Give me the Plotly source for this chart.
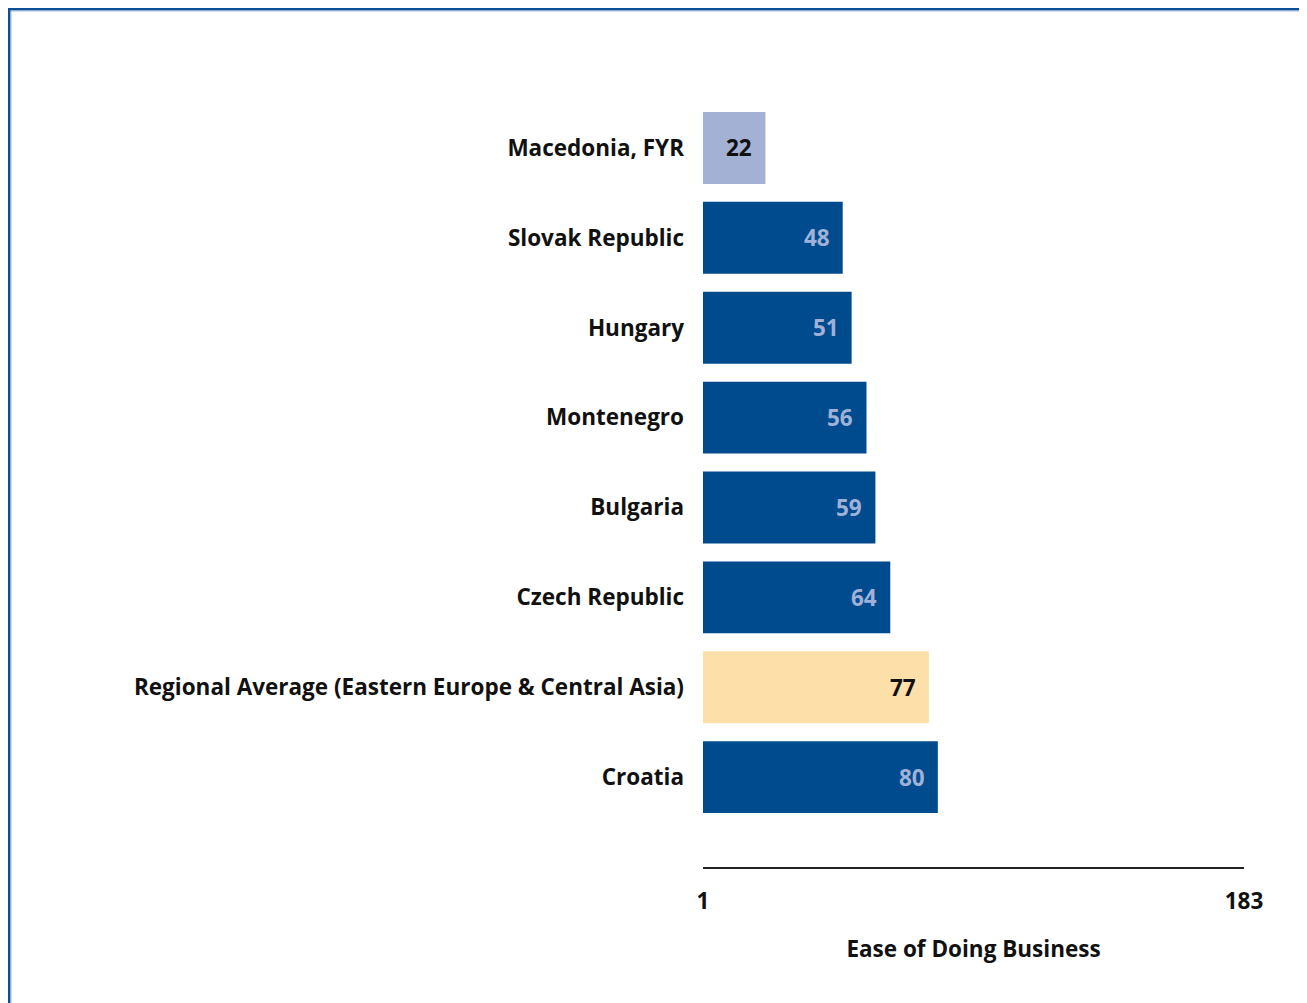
import plotly.graph_objects as go

categories = ["Croatia", "Regional Average (Eastern Europe & Central Asia)", "Czech Republic",
              "Bulgaria", "Montenegro", "Hungary", "Slovak Republic", "Macedonia, FYR"]
values = [80, 77, 64, 59, 56, 51, 48, 22]
bar_colors = ["#004b8d", "#fddfa9", "#004b8d", "#004b8d", "#004b8d", "#004b8d", "#004b8d", "#a3b1d4"]
text_colors = ["#9fb1d8", "#111111", "#9fb1d8", "#9fb1d8", "#9fb1d8", "#9fb1d8", "#9fb1d8", "#111111"]
x_ticks = [1, 183]
x_title = "Ease of Doing Business"

OFF = 8  # page body margin
W, H = 1307, 1003
L, R, T, B = 703 - OFF, 1307 - (1244 - OFF), 103 - OFF, 1003 - (867 - OFF)
pw, ph = W - L - R, H - T - B

def px2x(p):
    return (p - OFF - L) / pw

def px2y(p):
    return (H - B - (p - OFF)) / ph

FONT = "Open Sans"
FS = 22.5

fig = go.Figure()
fig.add_trace(go.Bar(
    x=values, y=categories, orientation="h",
    marker=dict(color=bar_colors, line=dict(width=0)),
    width=0.8, hoverinfo="skip", showlegend=False,
))

for v, c, tc in zip(values, categories, text_colors):
    fig.add_annotation(x=v, y=c, text="<b>%d</b>" % v, showarrow=False,
                       xanchor="right", xshift=-11,
                       font=dict(family=FONT, size=FS, color=tc))

# frame
blue = "#0d4f96"
light = "#9ab8dc"
fig.add_shape(type="line", xref="paper", yref="paper", x0=px2x(8), x1=px2x(1320),
              y0=px2y(9), y1=px2y(9), line=dict(color=blue, width=3))
fig.add_shape(type="line", xref="paper", yref="paper", x0=px2x(8), x1=px2x(1320),
              y0=px2y(11), y1=px2y(11), line=dict(color=light, width=1))
fig.add_shape(type="line", xref="paper", yref="paper", x0=px2x(9), x1=px2x(9),
              y0=px2y(8), y1=px2y(1020), line=dict(color=blue, width=3))
fig.add_shape(type="line", xref="paper", yref="paper", x0=px2x(11), x1=px2x(11),
              y0=px2y(11), y1=px2y(1020), line=dict(color=light, width=1))

fig.update_layout(
    width=W, height=H,
    margin=dict(l=L, r=R, t=T, b=B, pad=0),
    paper_bgcolor="white", plot_bgcolor="white",
    font=dict(family=FONT, size=FS, color="#111111"),
    xaxis=dict(range=[1, 183], tickvals=x_ticks, ticktext=["<b>%d</b>" % t for t in x_ticks],
               showgrid=False, zeroline=False, showline=True, linecolor="#222222", linewidth=2,
               ticks="", ticklabelstandoff=13, tickfont=dict(family=FONT, size=FS),
               title=dict(text="<b>" + x_title + "</b>", standoff=26,
                          font=dict(family=FONT, size=FS))),
    yaxis=dict(range=[-1.0, 7.5], showgrid=False, zeroline=False, showline=False, ticks="",
               ticklabelstandoff=18, tickfont=dict(family=FONT, size=FS),
               tickvals=categories, ticktext=["<b>%s</b>" % c for c in categories]),
    bargap=0.2,
)

fig.write_html("out.html")
